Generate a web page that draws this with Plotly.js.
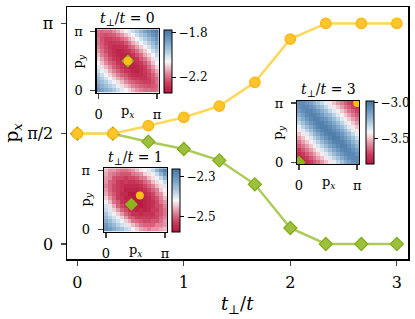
<!DOCTYPE html>
<html><head><meta charset="utf-8">
<script src="https://cdn.plot.ly/plotly-3.0.1.min.js"></script>
<style>html,body{margin:0;padding:0;background:#fff;}</style>
</head><body><div id="chart" style="width:415px;height:319px;"></div>
<script>
// ---- main curves ----
const tPerp = [0, 0.3333, 0.6667, 1, 1.3333, 1.6667, 2, 2.3333, 2.6667, 3];
const pxYellow = [1.571, 1.571, 1.685, 1.804, 1.965, 2.303, 2.919, 3.1416, 3.1416, 3.1416];
const pxGreen  = [1.571, 1.571, 1.457, 1.353, 1.191, 0.850, 0.228, 0, 0, 0];
const yTickVals = [0, Math.PI/2, Math.PI];
const yTickText = ['0', 'π/2', 'π'];
const xTickVals = [0, 1, 2, 3];
const insetTickVals = [0, Math.PI];
const insetTickText = ['0', 'π'];

// ---- inset energy maps (rows: py from 0 to π, columns: px from 0 to π) ----
const z0 = [
[-1.86,-1.88,-1.91,-1.93,-1.96,-2.00,-2.03,-2.06,-2.09,-2.12,-2.15,-2.17,-2.19,-2.19,-2.20,-2.19],
[-1.88,-1.91,-1.94,-1.97,-2.00,-2.04,-2.08,-2.11,-2.14,-2.17,-2.19,-2.21,-2.22,-2.23,-2.22,-2.20],
[-1.91,-1.94,-1.97,-2.01,-2.05,-2.08,-2.12,-2.16,-2.19,-2.21,-2.23,-2.24,-2.25,-2.25,-2.23,-2.19],
[-1.93,-1.97,-2.01,-2.05,-2.09,-2.13,-2.16,-2.20,-2.23,-2.25,-2.26,-2.27,-2.27,-2.25,-2.22,-2.19],
[-1.96,-2.00,-2.05,-2.09,-2.13,-2.17,-2.21,-2.23,-2.26,-2.28,-2.29,-2.29,-2.27,-2.24,-2.21,-2.16],
[-2.00,-2.04,-2.08,-2.13,-2.17,-2.21,-2.24,-2.27,-2.28,-2.30,-2.31,-2.29,-2.26,-2.23,-2.18,-2.13],
[-2.03,-2.08,-2.12,-2.16,-2.21,-2.24,-2.27,-2.29,-2.31,-2.31,-2.30,-2.28,-2.25,-2.20,-2.15,-2.09],
[-2.06,-2.11,-2.16,-2.20,-2.23,-2.27,-2.29,-2.31,-2.32,-2.31,-2.28,-2.26,-2.22,-2.17,-2.11,-2.06],
[-2.09,-2.14,-2.19,-2.23,-2.26,-2.28,-2.31,-2.32,-2.31,-2.29,-2.27,-2.22,-2.18,-2.13,-2.08,-2.03],
[-2.12,-2.17,-2.21,-2.25,-2.28,-2.30,-2.31,-2.31,-2.29,-2.27,-2.23,-2.19,-2.13,-2.09,-2.05,-1.99],
[-2.15,-2.19,-2.23,-2.26,-2.29,-2.31,-2.30,-2.28,-2.27,-2.23,-2.19,-2.14,-2.10,-2.05,-2.00,-1.96],
[-2.17,-2.21,-2.24,-2.27,-2.29,-2.29,-2.28,-2.26,-2.22,-2.19,-2.14,-2.10,-2.06,-2.01,-1.96,-1.92],
[-2.19,-2.22,-2.25,-2.27,-2.27,-2.26,-2.25,-2.22,-2.18,-2.13,-2.10,-2.06,-2.01,-1.97,-1.93,-1.88],
[-2.19,-2.23,-2.25,-2.25,-2.24,-2.23,-2.20,-2.17,-2.13,-2.09,-2.05,-2.01,-1.97,-1.93,-1.89,-1.85],
[-2.20,-2.22,-2.23,-2.22,-2.21,-2.18,-2.15,-2.11,-2.08,-2.05,-2.00,-1.96,-1.93,-1.89,-1.85,-1.82],
[-2.19,-2.20,-2.19,-2.19,-2.16,-2.13,-2.09,-2.06,-2.03,-1.99,-1.96,-1.92,-1.88,-1.85,-1.82,-1.79]
];
const z1 = [
[-2.30,-2.31,-2.33,-2.35,-2.36,-2.38,-2.39,-2.41,-2.44,-2.46,-2.47,-2.48,-2.47,-2.47,-2.46,-2.45],
[-2.31,-2.33,-2.35,-2.37,-2.39,-2.40,-2.43,-2.45,-2.47,-2.49,-2.50,-2.50,-2.50,-2.48,-2.48,-2.47],
[-2.33,-2.35,-2.37,-2.39,-2.41,-2.44,-2.46,-2.49,-2.50,-2.51,-2.52,-2.52,-2.51,-2.51,-2.49,-2.47],
[-2.35,-2.37,-2.39,-2.41,-2.44,-2.47,-2.50,-2.51,-2.53,-2.53,-2.53,-2.53,-2.53,-2.52,-2.50,-2.48],
[-2.36,-2.39,-2.41,-2.44,-2.47,-2.50,-2.52,-2.54,-2.54,-2.55,-2.54,-2.54,-2.54,-2.52,-2.51,-2.49],
[-2.38,-2.40,-2.44,-2.47,-2.50,-2.52,-2.54,-2.55,-2.56,-2.55,-2.56,-2.55,-2.53,-2.53,-2.51,-2.49],
[-2.39,-2.43,-2.46,-2.50,-2.52,-2.54,-2.55,-2.56,-2.56,-2.57,-2.56,-2.55,-2.54,-2.52,-2.51,-2.48],
[-2.41,-2.45,-2.49,-2.51,-2.54,-2.55,-2.56,-2.56,-2.57,-2.57,-2.56,-2.55,-2.54,-2.52,-2.49,-2.47],
[-2.44,-2.47,-2.50,-2.53,-2.54,-2.56,-2.56,-2.57,-2.57,-2.56,-2.56,-2.55,-2.53,-2.51,-2.48,-2.45],
[-2.46,-2.49,-2.51,-2.53,-2.55,-2.55,-2.57,-2.57,-2.56,-2.56,-2.55,-2.54,-2.52,-2.49,-2.47,-2.43],
[-2.47,-2.50,-2.52,-2.53,-2.54,-2.56,-2.56,-2.56,-2.56,-2.55,-2.54,-2.52,-2.50,-2.48,-2.44,-2.42],
[-2.48,-2.50,-2.52,-2.53,-2.54,-2.55,-2.55,-2.55,-2.55,-2.54,-2.52,-2.50,-2.48,-2.45,-2.43,-2.40],
[-2.47,-2.50,-2.51,-2.53,-2.54,-2.53,-2.54,-2.54,-2.53,-2.52,-2.50,-2.48,-2.45,-2.43,-2.41,-2.38],
[-2.47,-2.48,-2.51,-2.52,-2.52,-2.53,-2.52,-2.52,-2.51,-2.49,-2.48,-2.45,-2.43,-2.41,-2.38,-2.34],
[-2.46,-2.48,-2.49,-2.50,-2.51,-2.51,-2.51,-2.49,-2.48,-2.47,-2.44,-2.43,-2.41,-2.38,-2.34,-2.30],
[-2.45,-2.47,-2.47,-2.48,-2.49,-2.49,-2.48,-2.47,-2.45,-2.43,-2.42,-2.40,-2.38,-2.34,-2.30,-2.27]
];
const z3 = [
[-3.85,-3.82,-3.78,-3.73,-3.67,-3.62,-3.56,-3.50,-3.44,-3.38,-3.31,-3.25,-3.18,-3.13,-3.08,-3.06],
[-3.82,-3.78,-3.73,-3.67,-3.61,-3.55,-3.50,-3.44,-3.37,-3.30,-3.24,-3.17,-3.12,-3.07,-3.05,-3.06],
[-3.78,-3.73,-3.67,-3.61,-3.55,-3.49,-3.43,-3.37,-3.30,-3.23,-3.16,-3.11,-3.06,-3.04,-3.05,-3.10],
[-3.73,-3.67,-3.61,-3.55,-3.49,-3.43,-3.36,-3.29,-3.23,-3.16,-3.10,-3.05,-3.03,-3.04,-3.09,-3.14],
[-3.67,-3.61,-3.55,-3.49,-3.43,-3.36,-3.29,-3.22,-3.15,-3.10,-3.05,-3.02,-3.03,-3.08,-3.13,-3.20],
[-3.62,-3.55,-3.49,-3.43,-3.36,-3.29,-3.22,-3.15,-3.09,-3.04,-3.02,-3.03,-3.07,-3.12,-3.19,-3.25],
[-3.56,-3.50,-3.43,-3.36,-3.29,-3.22,-3.15,-3.09,-3.04,-3.01,-3.02,-3.07,-3.12,-3.18,-3.24,-3.32],
[-3.50,-3.44,-3.37,-3.29,-3.22,-3.15,-3.09,-3.04,-3.01,-3.02,-3.06,-3.11,-3.18,-3.24,-3.31,-3.38],
[-3.44,-3.37,-3.30,-3.23,-3.15,-3.09,-3.04,-3.01,-3.02,-3.06,-3.11,-3.17,-3.23,-3.31,-3.38,-3.44],
[-3.38,-3.30,-3.23,-3.16,-3.10,-3.04,-3.01,-3.02,-3.06,-3.11,-3.17,-3.23,-3.30,-3.37,-3.44,-3.50],
[-3.31,-3.24,-3.16,-3.10,-3.05,-3.02,-3.02,-3.06,-3.11,-3.17,-3.23,-3.30,-3.37,-3.43,-3.49,-3.56],
[-3.25,-3.17,-3.11,-3.05,-3.02,-3.03,-3.07,-3.11,-3.17,-3.23,-3.30,-3.37,-3.43,-3.49,-3.55,-3.61],
[-3.18,-3.12,-3.06,-3.03,-3.03,-3.07,-3.12,-3.18,-3.23,-3.30,-3.37,-3.43,-3.49,-3.55,-3.61,-3.66],
[-3.13,-3.07,-3.04,-3.04,-3.08,-3.12,-3.18,-3.24,-3.31,-3.37,-3.43,-3.49,-3.55,-3.61,-3.66,-3.71],
[-3.08,-3.05,-3.05,-3.09,-3.13,-3.19,-3.24,-3.31,-3.38,-3.44,-3.49,-3.55,-3.61,-3.66,-3.71,-3.75],
[-3.06,-3.06,-3.10,-3.14,-3.20,-3.25,-3.32,-3.38,-3.44,-3.50,-3.56,-3.61,-3.66,-3.71,-3.75,-3.78]
];
const insetTitles = ['0', '1', '3'];
const cbTicks = [[-1.8, -2.2], [-2.3, -2.5], [-3.0, -3.5]];
const cbRange = [[-2.337, -1.773], [-2.575, -2.258], [-3.856, -2.976]];
const insetIdx = [0, 3, 9]; // which t-perp point each inset shows

const FONT = 'DejaVu Serif';
const YEL = '#FFC52B', YEL_E = '#FDB515', YEL_L = '#FFD759';
const GRN = '#9DC13F', GRN_E = '#84AD1B', GRN_L = '#ADCB5B';
const GRN_S = '#8DB51C', YEL_S = '#FFBE16';
const cscale = [[0,'#b5173f'],[0.15,'#ca3c5d'],[0.3,'#df8297'],[0.42,'#f1cad2'],[0.5,'#f7f6f6'],
                [0.58,'#d3e2ee'],[0.7,'#9fbfd8'],[0.85,'#6d97bf'],[1,'#4674a3']];

const traces = [
  {x: tPerp, y: pxGreen, type: 'scatter', mode: 'lines+markers', xaxis: 'x', yaxis: 'y',
   line: {color: GRN_L, width: 2.5},
   marker: {symbol: 'diamond', size: 10, color: GRN, line: {color: GRN_E, width: 1.3}}},
  {x: tPerp, y: pxYellow, type: 'scatter', mode: 'lines+markers', xaxis: 'x', yaxis: 'y',
   line: {color: YEL_L, width: 2.5},
   marker: {symbol: 'circle', size: 10.5, color: YEL, line: {color: YEL_E, width: 1.3}}}
];

// inset geometry (paper fractions of the main plot area)
const insetDom = [
  {x: [0.0868, 0.2699], y: [0.6599, 0.9115], cbx: 0.2845, cbt: 8},
  {x: [0.1082, 0.2933], y: [0.1083, 0.3599], cbx: 0.3070, cbt: 7.5},
  {x: [0.6746, 0.8567], y: [0.3758, 0.6270], cbx: 0.8734, cbt: 7.6}
];
const zs = [z0, z1, z3];
const layout = {
  width: 415, height: 319, margin: {l: 67, r: 6, t: 7, b: 60},
  paper_bgcolor: '#fff', plot_bgcolor: '#fff', showlegend: false,
  font: {family: FONT, color: '#000'},
  xaxis: {range: [-0.097, 3.105], tickvals: xTickVals, ticks: 'outside', ticklen: 5, tickwidth: 1.3,
          showline: true, mirror: true, linewidth: 1.5, linecolor: '#000', showgrid: false, zeroline: false,
          tickfont: {size: 16, family: FONT}, ticklabelstandoff: 3},
  yaxis: {range: [-0.214, 3.376], tickvals: yTickVals, ticktext: yTickText, ticks: 'outside', ticklen: 5, tickwidth: 1.3,
          showline: true, mirror: true, linewidth: 1.5, linecolor: '#000', showgrid: false, zeroline: false,
          tickfont: {size: 16, family: FONT}, ticklabelstandoff: 4,
          title: {text: 'p<sub><i>x</i></sub>', font: {size: 19, family: FONT}, standoff: 3}},
  annotations: [
    {xref: 'x domain', yref: 'paper', x: 0.5, y: -0.128, xanchor: 'center', yanchor: 'top', showarrow: false,
     text: '<i>t</i><sub>⊥</sub>/<i>t</i>', font: {size: 18, family: FONT}}
  ]
};

const r = [-Math.PI/30, Math.PI + Math.PI/30];
for (let k = 0; k < 3; k++) {
  const n = k + 2, xa = 'x' + n, ya = 'y' + n;
  const d = insetDom[k];
  traces.push({type: 'heatmap', z: zs[k], x0: 0, dx: Math.PI/15, y0: 0, dy: Math.PI/15,
    xaxis: xa, yaxis: ya, colorscale: cscale, zmin: cbRange[k][0], zmax: cbRange[k][1], zsmooth: false,
    hoverinfo: 'skip',
    colorbar: {x: d.cbx, xanchor: 'left', xref: 'paper', y: (d.y[0] + d.y[1]) / 2, yanchor: 'middle',
      len: d.y[1] - d.y[0], lenmode: 'fraction', thickness: d.cbt, thicknessmode: 'pixels',
      xpad: 0, ypad: 0, outlinewidth: 1, outlinecolor: '#000', borderwidth: 0,
      tickvals: cbTicks[k], tickformat: '.1f', ticks: 'outside', ticklen: 4, tickwidth: 1.2, tickcolor: '#000',
      tickfont: {size: 12, family: FONT}}});
  const idx = insetIdx[k];
  traces.push({x: [pxGreen[idx]], y: [pxGreen[idx]], type: 'scatter', mode: 'markers', xaxis: xa, yaxis: ya,
    marker: {symbol: 'diamond', size: 10, color: GRN_S}, hoverinfo: 'skip'});
  traces.push({x: [pxYellow[idx]], y: [pxYellow[idx]], type: 'scatter', mode: 'markers', xaxis: xa, yaxis: ya,
    marker: {symbol: 'circle', size: 8, color: YEL_S}, hoverinfo: 'skip'});
  const common = {range: r, tickvals: insetTickVals, ticktext: insetTickText, ticks: 'outside', ticklen: 5,
    tickwidth: 1.4, showline: true, mirror: true, linewidth: 1.2, linecolor: '#000', showgrid: false,
    zeroline: false, tickfont: {size: 13, family: FONT}, fixedrange: true};
  layout['xaxis' + n] = Object.assign({}, common, {domain: d.x, anchor: ya, ticklabelstandoff: 4});
  layout['yaxis' + n] = Object.assign({}, common, {domain: d.y, anchor: xa, ticklabelstandoff: 5});
  layout.annotations.push({xref: xa + ' domain', yref: ya + ' domain', x: 0.5, y: 1.17, xanchor: 'center', yanchor: 'middle',
    text: '<i>t</i><sub>⊥</sub>/<i>t</i> = ' + insetTitles[k], showarrow: false, font: {size: 14, family: FONT}});
  layout.annotations.push({xref: xa + ' domain', yref: ya + ' domain', x: 0.5, y: -0.29, xanchor: 'center', yanchor: 'middle',
    text: 'p<sub><i>x</i></sub>', showarrow: false, font: {size: 13, family: FONT}});
  layout.annotations.push({xref: xa + ' domain', yref: ya + ' domain', x: -0.29, y: 0.5, xanchor: 'center', yanchor: 'middle',
    text: 'p<sub><i>y</i></sub>', textangle: -90, showarrow: false, font: {size: 13, family: FONT}});
}

Plotly.newPlot('chart', traces, layout, {staticPlot: true, displayModeBar: false});
</script></body></html>
